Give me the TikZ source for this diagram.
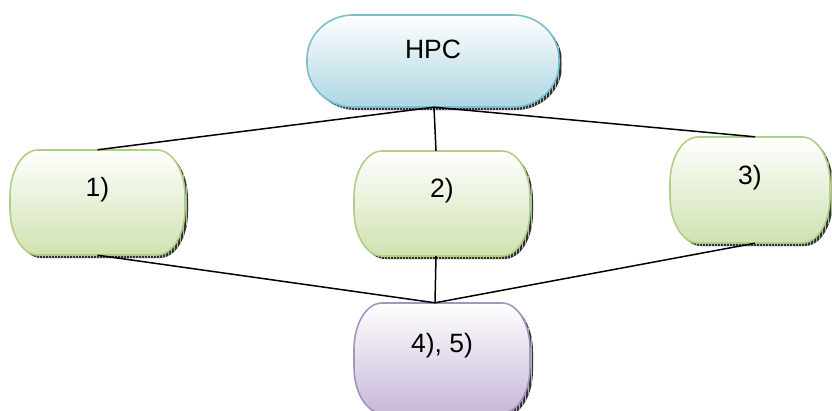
\documentclass[tikz,border=0pt]{standalone}
\usepackage{fontspec}
\setmainfont{Liberation Sans}
\usetikzlibrary{patterns}

% colours of the three box families
\definecolor{hpcfill}{RGB}{172,215,227}
\definecolor{hpcline}{RGB}{122,190,207}
\definecolor{grnfill}{RGB}{208,226,176}
\definecolor{grnline}{RGB}{176,207,134}
\definecolor{purfill}{RGB}{200,185,217}
\definecolor{purline}{RGB}{165,147,196}

% rectangle with elliptical corners: left, top, right, bottom, rx, ry
\newcommand\erect[6]{%
  ({#1+#5},#2) -- ({#3-#5},#2)
  .. controls ({#3-0.448*#5},#2) and (#3,{#2+0.448*#6}) .. (#3,{#2+#6})
  -- (#3,{#4-#6})
  .. controls (#3,{#4-0.448*#6}) and ({#3-0.448*#5},#4) .. ({#3-#5},#4)
  -- ({#1+#5},#4)
  .. controls ({#1+0.448*#5},#4) and (#1,{#4-0.448*#6}) .. (#1,{#4-#6})
  -- (#1,{#2+#6})
  .. controls (#1,{#2+0.448*#6}) and ({#1+0.448*#5},#2) .. ({#1+#5},#2) -- cycle}

% shadow, shaded body and border of one box
% #1 left, #2 top, #3 right, #4 bottom, #5 rx, #6 ry, #7 fill, #8 border
\newcommand\drawbox[8]{%
  \fill[gray!40!black] \erect{#1+3}{#2+3}{#3+3}{#4+3}{#5}{#6};
  \fill[pattern=vertical lines, pattern color=gray!60] \erect{#1+3}{#2+3}{#3+3}{#4+3}{#5}{#6};
  \shade[top color=white, bottom color=#7] \erect{#1}{#2}{#3}{#4}{#5}{#6};
  \draw[#8, line width=1.6pt] \erect{#1}{#2}{#3}{#4}{#5}{#6};
}

\tikzset{
  boxlabel/.style={inner sep=0pt, font=\fontsize{26.5}{30}\selectfont,
    text height=19pt, text depth=31pt},
  hpclabel/.style={inner sep=0pt, font=\fontsize{26.5}{30}\selectfont,
    text height=19pt, text depth=24pt},
  link/.style={black, line width=1.5pt}
}

\begin{document}
\begin{tikzpicture}[x=1pt, y=-1pt]
  \useasboundingbox (0,0) rectangle (832,410);
  \clip (0,0) rectangle (832,410);

  % box bodies
  \drawbox{307}{15}{559}{107}{46}{44}{hpcfill}{hpcline}
  \drawbox{10}{150}{185}{255}{28}{46}{grnfill}{grnline}
  \drawbox{354}{151}{530}{256}{28}{46}{grnfill}{grnline}
  \drawbox{670}{137}{830}{243}{28}{46}{grnfill}{grnline}
  \drawbox{354}{303}{530}{413}{28}{46}{purfill}{purline}

  % named nodes carrying the texts
  \node[hpclabel, minimum width=252pt, minimum height=92pt] (hpc) at (433,61) {HPC};
  \node[boxlabel, minimum width=175pt, minimum height=105pt] (n1) at (97.5,202.5) {1)};
  \node[boxlabel, minimum width=176pt, minimum height=105pt] (n2) at (442,203.5) {2)};
  \node[boxlabel, minimum width=160pt, minimum height=106pt] (n3) at (750,190) {3)};
  \node[boxlabel, minimum width=176pt, minimum height=110pt] (n4) at (442,358) {4), 5)};

  % connectors
  \draw[link] ([xshift=1pt]hpc.south) -- (n1.north);
  \draw[link] ([xshift=1pt]hpc.south) -- ([xshift=-6pt]n2.north);
  \draw[link] ([xshift=1pt]hpc.south) -- ([xshift=5pt]n3.north);
  \draw[link] (n1.south) -- ([xshift=-7pt]n4.north);
  \draw[link] ([xshift=-6pt]n2.south) -- ([xshift=-7pt]n4.north);
  \draw[link] ([xshift=5pt]n3.south) -- ([xshift=-7pt]n4.north);
\end{tikzpicture}
\end{document}
